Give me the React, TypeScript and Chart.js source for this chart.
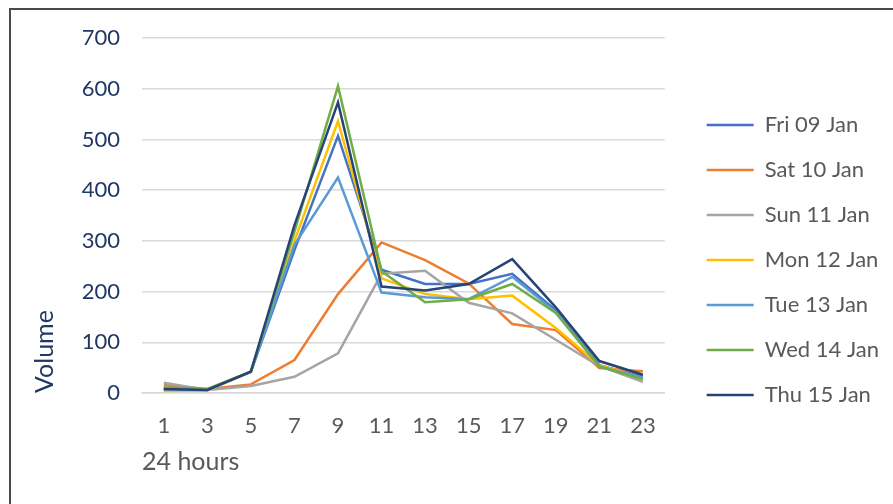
import React, { useEffect, useRef } from 'react';
import { Chart, registerables } from 'chart.js';

Chart.register(...registerables);

const hours = ['1', '3', '5', '7', '9', '11', '13', '15', '17', '19', '21', '23'];
const seriesNames = ['Fri 09 Jan', 'Sat 10 Jan', 'Sun 11 Jan', 'Mon 12 Jan', 'Tue 13 Jan', 'Wed 14 Jan', 'Thu 15 Jan'];
const fri = [7, 6, 42, 282, 507, 243, 215, 215, 235, 163, 55, 32];
const sat = [16, 8, 17, 65, 195, 297, 262, 216, 136, 124, 49, 43];
const sun = [20, 6, 14, 32, 78, 235, 241, 178, 157, 105, 53, 22];
const mon = [4, 5, 42, 300, 536, 226, 195, 185, 192, 128, 55, 29];
const tue = [7, 6, 42, 292, 425, 198, 189, 185, 229, 160, 52, 30];
const wed = [11, 8, 42, 318, 605, 240, 179, 185, 215, 158, 53, 27];
const thu = [8, 6, 42, 331, 573, 210, 202, 215, 264, 169, 63, 36];
const yTicks = [0, 100, 200, 300, 400, 500, 600, 700];

const seriesColors = ['#4472C4', '#ED7D31', '#A5A5A5', '#FFC000', '#5B9BD5', '#70AD47', '#264478'];

const CANVAS_W = 882;
const CANVAS_H = 494;
const LEGEND_FONT = 22;
const LEGEND_BOX = 47;
const LEGEND_PAD = 23;
const LEGEND_LEFT = 671;

export default function App() {
  const ref = useRef<HTMLCanvasElement>(null);
  useEffect(() => {
    const canvas = ref.current;
    if (!canvas) return;
    Chart.defaults.font.family = 'Lato';

    const mctx = document.createElement('canvas').getContext('2d')!;
    mctx.font = `${LEGEND_FONT}px Lato`;
    const maxText = Math.max(...seriesNames.map((n) => mctx.measureText(n).width));
    const legendW = Math.ceil(LEGEND_PAD + LEGEND_BOX + LEGEND_FONT / 2 + maxText + 10) + 1;
    const padRight = Math.max(0, CANVAS_W - LEGEND_LEFT - legendW);

    const series = [fri, sat, sun, mon, tue, wed, thu];
    const chart = new Chart(canvas, {
      type: 'line',
      data: {
        labels: hours,
        datasets: series.map((d, i) => ({
          label: seriesNames[i],
          data: d,
          borderColor: seriesColors[i],
          backgroundColor: seriesColors[i],
          borderWidth: 2.5,
          pointRadius: 0,
          pointHoverRadius: 0,
          tension: 0,
          order: series.length - i,
          xAxisID: 'x',
          yAxisID: 'y',
        })),
      },
      options: {
        responsive: false,
        animation: false,
        events: [],
        layout: { padding: { top: 28, bottom: 22, left: 0, right: padRight } },
        scales: {
          x: {
            offset: true,
            grid: { display: false, drawTicks: false },
            border: { display: true, color: '#D9D9D9', width: 1.5 },
            ticks: { color: '#595959', font: { size: 22 }, padding: 20, maxRotation: 0, autoSkip: false },
            title: {
              display: true,
              text: '24 hours',
              align: 'start',
              color: '#595959',
              font: { size: 25 },
              padding: { top: 0, bottom: 5 },
            },
            afterFit: (s: any) => {
              s.height = 89;
              s.paddingLeft = 0;
              s.paddingRight = 0;
            },
          },
          y: {
            min: yTicks[0],
            max: yTicks[yTicks.length - 1],
            afterBuildTicks: (s: any) => {
              s.ticks = yTicks.map((v) => ({ value: v }));
            },
            ticks: { color: '#1F3864', font: { size: 22 }, padding: 22 },
            grid: { color: '#D9D9D9', lineWidth: 1.5, drawTicks: false },
            border: { display: false },
            title: {
              display: true,
              text: 'Volume',
              align: 'start',
              color: '#1F3864',
              font: { size: 25 },
              padding: { top: 19, bottom: 0 },
            },
            afterFit: (s: any) => {
              s.width = 131;
              s.paddingTop = 0;
              s.paddingBottom = 0;
            },
          },
          gap: {
            type: 'linear',
            position: 'right',
            display: false,
            grid: { display: false, drawTicks: false },
            border: { display: false },
            ticks: { display: false },
            afterFit: (s: any) => {
              s.width = 19;
              s.paddingTop = 0;
              s.paddingBottom = 0;
            },
          },
        },
        plugins: {
          tooltip: { enabled: false },
          legend: {
            position: 'right',
            align: 'center',
            maxWidth: legendW,
            labels: {
              color: '#595959',
              font: { size: LEGEND_FONT },
              boxWidth: LEGEND_BOX,
              boxHeight: 2.5,
              padding: LEGEND_PAD,
              sort: (a: any, b: any) => a.datasetIndex - b.datasetIndex,
              generateLabels: (c: any) =>
                (Chart.defaults.plugins.legend.labels as any)
                  .generateLabels(c)
                  .map((l: any) => ({ ...l, lineWidth: 0, fillStyle: l.strokeStyle })),
            },
          },
        },
      } as any,
    });
    return () => chart.destroy();
  }, []);

  return (
    <div
      style={{
        position: 'fixed',
        left: 9,
        top: 8,
        width: 900,
        height: 520,
        borderLeft: '2px solid #4a4a4a',
        borderTop: '2px solid #4a4a4a',
        background: '#fff',
      }}
    >
      <canvas ref={ref} width={CANVAS_W} height={CANVAS_H} style={{ display: 'block' }} />
    </div>
  );
}
